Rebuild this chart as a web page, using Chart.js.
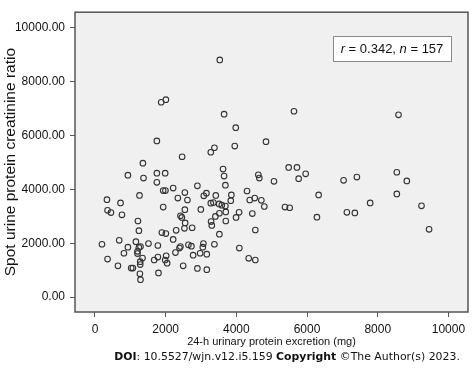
<!DOCTYPE html>
<html>
<head>
<meta charset="utf-8">
<script src="https://cdn.jsdelivr.net/npm/chart.js@4/dist/chart.umd.min.js"></script>
<style>
  html, body { margin: 0; padding: 0; background: #fff; }
  .wrap { width: 474px; height: 373px; position: relative; }
</style>
</head>
<body>
<div class="wrap"><canvas class="scatter-chart"></canvas></div>
<script>
// 24-h urinary protein (mg) vs spot UPCR
const excretion = [
  3531, 1873, 2006, 3653, 5630, 3983, 1751, 3379, 3277, 3955, 4839, 2466, 8588,
  7410, 8540, 8823, 8540, 7786, 7353, 9238, 9453,
  5480, 5715, 5961, 5763, 5065, 7034, 6328, 4707, 4791, 5376, 5509, 6280, 7127,
  3624, 3653, 3690, 4622, 4650, 2212, 2898, 2345, 2543, 2616, 3079, 3153, 3418,
  3859, 3842, 4302, 4379, 4520, 3277, 3351, 3512, 3588, 3690, 2543, 2995, 3701,
  4077, 3520, 3407, 2418, 2458, 3992, 4452, 2551, 3285, 3701, 3305,
  2297, 2531, 2749, 2212, 3520, 4537, 2418, 2390, 2277, 2644, 2729, 3068, 3051,
  3379, 2777, 2975, 3164, 4085, 4350, 4537, 2495, 2898, 3164,
  1356, 932, 1373, 1751, 1986, 1751, 1930, 1994, 1260, 339, 723, 356, 452, 763,
  1930, 1215,
  1243, 1893, 2006, 198, 686, 932, 1158, 1243, 1288, 1514, 1780, 1203, 1203, 819,
  356, 1345, 1675, 1780, 2014, 1986, 2042, 1280, 1280, 650, 1025, 1073, 1797,
  1271, 1288
];
const ratio = [
  8813, 7241, 7338, 6798, 6906, 6295, 5802, 5550, 5382, 5611, 5777, 5216, 6773,
  4460, 4640, 4316, 3834, 3500, 3129, 3392, 2518,
  4820, 4820, 4579, 4399, 4302, 4338, 3798, 3597, 3367, 3345, 3320, 2971, 3151,
  4759, 4496, 4158, 4543, 4424, 4050, 4136, 3680, 3885, 3608, 3763, 3860, 3777,
  3798, 3583, 3942, 3608, 3680, 3489, 3511, 3464, 3417, 3381, 3248, 3259, 3165,
  3151, 3115, 2996, 3022, 2960, 2960, 3104, 2755, 2806, 2827, 2662,
  2482, 2554, 2576, 2144, 2338, 2493, 1881, 1820, 1655, 1942, 1892, 1989, 1856,
  1964, 1557, 1629, 1594, 1820, 1439, 1378, 1162, 1065, 1018,
  4975, 4532, 4424, 4604, 4604, 4266, 3957, 3957, 3777, 3619, 3500, 3223, 3140, 3058,
  3345, 2827,
  2468, 2396, 2360, 1964, 2108, 1856, 2061, 1845, 1881, 1989, 1917, 1701, 1619, 1629,
  1414, 1450, 1378, 1486, 1533, 1378, 1259, 1317, 1209, 1162, 1079, 1079, 899,
  863, 647
];
const xTicks = [0, 2000, 4000, 6000, 8000, 10000];
const yTicks = [0, 2000, 4000, 6000, 8000, 10000];
const corrR = "0.342";
const sampleN = "157";

const axisFont = "'Liberation Sans', Arial, sans-serif";

// gray plot background, frame, stats box and DOI line
const decor = {
  id: "decor",
  beforeDraw(chart) {
    const { ctx, chartArea: a } = chart;
    ctx.save();
    ctx.fillStyle = "#f0f0f0";
    ctx.fillRect(a.left, a.top, a.right - a.left, a.bottom - a.top);
    ctx.restore();
  },
  afterDraw(chart) {
    const { ctx, chartArea: a } = chart;
    ctx.save();
    ctx.strokeStyle = "#555";
    ctx.lineWidth = 1.5;
    ctx.strokeRect(a.left, a.top, a.right - a.left, a.bottom - a.top);

    // r / n box
    ctx.fillStyle = "#fff";
    ctx.fillRect(333, 36, 119, 26);
    ctx.strokeStyle = "#8a8a8a";
    ctx.lineWidth = 1;
    ctx.strokeRect(333.5, 36.5, 118, 25);
    const parts = [
      ["italic", "r"], ["normal", " = " + corrR + ", "],
      ["italic", "n"], ["normal", " = " + sampleN]
    ];
    drawRuns(ctx, parts, 13, axisFont, 392, 49.5, "#111");

    // DOI footer
    const doi = [
      ["bold", "DOI"], ["normal", ": 10.5527/wjn.v12.i5.159 "],
      ["bold", "Copyright"], ["normal", " \u00A9The Author(s) 2023."]
    ];
    const fam = "'DejaVu Sans', Verdana, sans-serif";
    let w = runsWidth(ctx, doi, 12, fam);
    let size = 12 * 346 / w;
    drawRuns(ctx, doi, size, fam, 287, 357, "#111");
    ctx.restore();
  }
};

function runsWidth(ctx, parts, size, fam) {
  let w = 0;
  parts.forEach(([style, txt]) => {
    ctx.font = fontFor(style, size, fam);
    w += ctx.measureText(txt).width;
  });
  return w;
}

function fontFor(style, size, fam) {
  if (style === "bold") return "bold " + size + "px " + fam;
  if (style === "italic") return "italic " + size + "px " + fam;
  return size + "px " + fam;
}

function drawRuns(ctx, parts, size, fam, cx, cy, color) {
  let x = cx - runsWidth(ctx, parts, size, fam) / 2;
  ctx.fillStyle = color;
  ctx.textBaseline = "middle";
  ctx.textAlign = "left";
  parts.forEach(([style, txt]) => {
    ctx.font = fontFor(style, size, fam);
    ctx.fillText(txt, x, cy);
    x += ctx.measureText(txt).width;
  });
}

const points = excretion.map((x, i) => ({ x: x, y: ratio[i] }));

const ctx = document.querySelector(".scatter-chart").getContext("2d");

new Chart(ctx, {
  type: "scatter",
  data: {
    datasets: [
      {
        data: points,
        pointRadius: 2.8,
        pointHoverRadius: 2.8,
        borderWidth: 1.1,
        borderColor: "#333",
        backgroundColor: "rgba(0,0,0,0)",
      },
    ],
  },
  options: {
    responsive: true,
    maintainAspectRatio: false,
    animation: false,
    events: [],
    layout: { padding: { top: 3, right: 6, left: 0, bottom: 0 } },
    plugins: { legend: { display: false }, tooltip: { enabled: false } },
    scales: {
      x: {
        type: "linear",
        min: -565,
        max: 10554,
        afterBuildTicks: (scale) => {
          scale.ticks = xTicks.map((v) => ({ value: v }));
        },
        afterFit: (scale) => {
          scale.height = 61;
        },
        border: { display: false },
        grid: {
          drawOnChartArea: false,
          drawTicks: true,
          tickLength: 5,
          color: "#555",
        },
        ticks: {
          padding: 5,
          color: "#111",
          font: { family: axisFont, size: 12 },
          maxRotation: 0,
          callback: (v) => String(v),
        },
        title: {
          display: true,
          text: "24-h urinary protein excretion (mg)",
          color: "#111",
          font: { family: axisFont, size: 11 },
          padding: { top: 0, bottom: 24 },
        },
      },
      y: {
        type: "linear",
        min: -554,
        max: 10587,
        afterBuildTicks: (scale) => {
          scale.ticks = yTicks.map((v) => ({ value: v }));
        },
        afterFit: (scale) => {
          scale.width = 75;
        },
        border: { display: false },
        grid: {
          drawOnChartArea: false,
          drawTicks: true,
          tickLength: 5,
          color: "#555",
        },
        ticks: {
          padding: 5,
          color: "#111",
          font: { family: axisFont, size: 12 },
          callback: (v) => Number(v).toFixed(2),
        },
        title: {
          display: true,
          text: "Spot urine protein creatinine ratio",
          color: "#111",
          font: { family: axisFont, size: 15.5 },
          padding: { top: 1, bottom: 0 },
        },
      },
    },
  },
  plugins: [decor],
});
</script>
</body>
</html>
